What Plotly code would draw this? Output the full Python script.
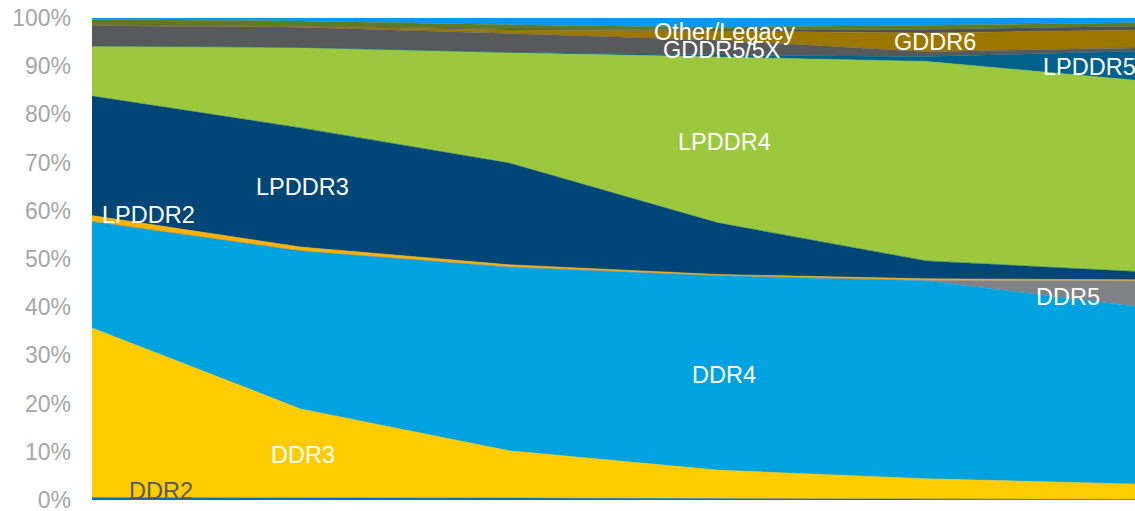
import plotly.graph_objects as go

periods = [0, 1, 2, 3, 4, 5]

ddr2 = [0.5, 0.5, 0.4, 0.3, 0.2, 0.1]
ddr3 = [35.2, 18.4, 9.8, 5.9, 4.2, 3.2]
ddr4 = [22.1, 32.8, 38.1, 40.3, 41.1, 36.9]
ddr5 = [0.0, 0.0, 0.1, 0.1, 0.1, 5.3]
lpddr2 = [1.2, 0.8, 0.4, 0.2, 0.3, 0.2]
lpddr3 = [24.8, 24.7, 21.1, 10.7, 3.7, 1.7]
lpddr4 = [10.4, 16.7, 22.9, 34.4, 41.4, 39.7]
lpddr5 = [0.0, 0.0, 0.1, 0.4, 1.0, 6.0]
gddr5 = [4.2, 4.2, 3.9, 3.1, 1.0, 0.7]
gddr6 = [0.1, 0.2, 0.7, 1.9, 3.9, 3.7]
unlabeled_a = [0.1, 0.1, 0.2, 0.2, 0.7, 0.8]
other_legacy = [1.1, 1.0, 0.9, 0.6, 0.9, 0.7]
unlabeled_b = [0.3, 0.6, 1.4, 1.9, 1.5, 1.0]

series = [
    ("DDR2", ddr2, "#0070C0"),
    ("DDR3", ddr3, "#FFCC00"),
    ("DDR4", ddr4, "#00A3E0"),
    ("DDR5", ddr5, "#808285"),
    ("LPDDR2", lpddr2, "#FFB300"),
    ("LPDDR3", lpddr3, "#004676"),
    ("LPDDR4", lpddr4, "#9BC83D"),
    ("LPDDR5", lpddr5, "#00628B"),
    ("GDDR5/5X", gddr5, "#58595B"),
    ("GDDR6", gddr6, "#9B7700"),
    ("Unlabeled A", unlabeled_a, "#4E5052"),
    ("Other/Legacy", other_legacy, "#5E7D22"),
    ("Unlabeled B", unlabeled_b, "#0099FF"),
]

fig = go.Figure()
for name, vals, col in series:
    fig.add_trace(go.Scatter(
        x=periods, y=vals, name=name, mode="lines",
        stackgroup="one", groupnorm="percent",
        line=dict(width=0.5, color=col), fillcolor=col,
        showlegend=False,
    ))

labels = [
    ("Other/Legacy", 3.03, 97.0, "white"),
    ("GDDR5/5X", 3.02, 93.3, "white"),
    ("GDDR6", 4.04, 95.0, "white"),
    ("LPDDR5", 4.78, 89.8, "white"),
    ("LPDDR4", 3.03, 74.3, "white"),
    ("LPDDR3", 1.01, 64.9, "white"),
    ("LPDDR2", 0.27, 59.1, "white"),
    ("DDR5", 4.68, 42.1, "white"),
    ("DDR4", 3.03, 25.9, "white"),
    ("DDR3", 1.01, 9.3, "white"),
    ("DDR2", 0.33, 1.9, "#595959"),
]
for text, x, y, c in labels:
    fig.add_annotation(x=x, y=y, xref="x", yref="y", text=text, showarrow=False,
                       font=dict(size=23.5, color=c, family="Arial, Liberation Sans"))

fig.update_layout(
    width=1135, height=511,
    margin=dict(l=92, r=0, t=18, b=11, autoexpand=False),
    paper_bgcolor="white", plot_bgcolor="white",
    font=dict(family="Arial, Liberation Sans"),
    xaxis=dict(range=[0, 5], visible=False, showgrid=False, zeroline=False,
               automargin=False),
    yaxis=dict(range=[0, 100], tickvals=[0, 10, 20, 30, 40, 50, 60, 70, 80, 90, 100],
               ticktext=[f"{v}%" for v in range(0, 101, 10)],
               showgrid=False, zeroline=False, showline=False,
               automargin=False, ticklabeloverflow="allow",
               tickfont=dict(size=23, color="#A6A6A6"), ticklabelstandoff=20),
)

fig.write_html("out.html")
